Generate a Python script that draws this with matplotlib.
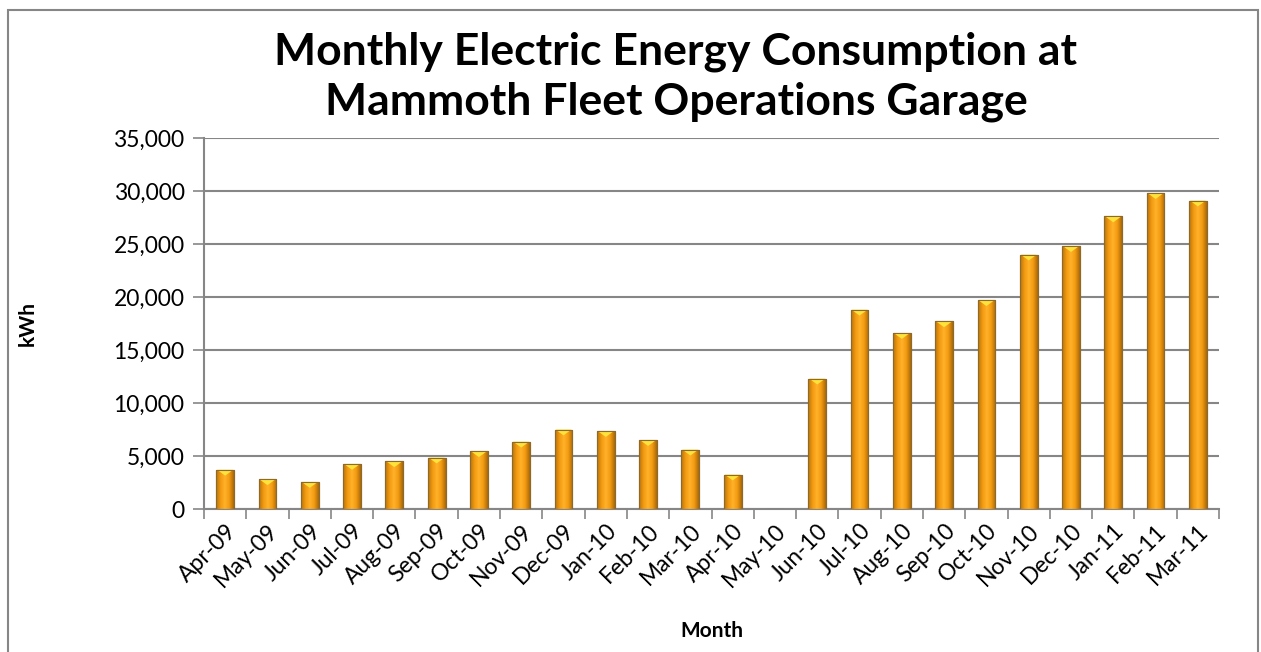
import numpy as np
import matplotlib.pyplot as plt
from matplotlib.patches import Rectangle, Polygon
from matplotlib.colors import LinearSegmentedColormap

months = ["Apr-09", "May-09", "Jun-09", "Jul-09", "Aug-09", "Sep-09", "Oct-09",
          "Nov-09", "Dec-09", "Jan-10", "Feb-10", "Mar-10", "Apr-10", "May-10",
          "Jun-10", "Jul-10", "Aug-10", "Sep-10", "Oct-10", "Nov-10", "Dec-10",
          "Jan-11", "Feb-11", "Mar-11"]
kwh = [3700, 2800, 2550, 4250, 4500, 4850, 5450, 6350, 7500, 7350, 6500, 5600,
       3250, 0, 12300, 18800, 16600, 17700, 19700, 24000, 24800, 27600, 29800, 29100]
yticks = [0, 5000, 10000, 15000, 20000, 25000, 30000, 35000]

plt.rcParams["font.family"] = ["Lato", "DejaVu Sans"]

fig = plt.figure(figsize=(12.61, 6.52), dpi=100)
ax = fig.add_axes([0.1618, 0.2193, 0.8049, 0.5690])

x = np.arange(len(months))
bars = ax.bar(x, kwh, width=0.42, color="#F5A01A", edgecolor="#8C6A2A", linewidth=0.8, zorder=3)

# shaded look: dark edges, bright centre, small yellow bevel on top
cmap = LinearSegmentedColormap.from_list("bar", ["#B8740C", "#F29A10", "#FFB22A", "#F29A10", "#A9690A"])
grad = np.linspace(0, 1, 64).reshape(1, -1)
for b in bars:
    h = b.get_height()
    if h <= 0:
        continue
    x0, w = b.get_x(), b.get_width()
    im = ax.imshow(grad, cmap=cmap, aspect="auto", extent=[x0, x0 + w, 0, h], zorder=3.5)
    im.set_clip_path(b)
    cap = 550
    tri = Polygon([[x0 + 0.05 * w, h], [x0 + 0.95 * w, h], [x0 + w / 2, h - cap]],
                  closed=True, facecolor="#FFE23A", edgecolor="none", zorder=4)
    ax.add_patch(tri)
    ax.add_patch(Rectangle((x0, 0), w, h, fill=False, edgecolor="#8C6A2A", linewidth=0.8, zorder=4.5))

ax.set_xlim(-0.5, len(months) - 0.5)
ax.set_ylim(0, 35000)
ax.set_yticks(yticks)
ax.set_yticklabels([f"{v:,}" for v in yticks], fontsize=16.5)
ax.set_xticks(x)
ax.set_xticklabels(months, rotation=45, ha="right", rotation_mode="anchor", fontsize=16.5)
ax.tick_params(axis="x", length=0, pad=8)
ax.set_xticks(np.arange(-0.5, len(months), 1), minor=True)
ax.tick_params(axis="x", which="minor", length=7, color="#868686", width=1.2)
ax.tick_params(axis="y", length=8, color="#868686", width=1.2, pad=6)

ax.grid(True, axis="y", color="#868686", linewidth=1.5, zorder=0)
ax.set_axisbelow(True)
for s in ["top", "right"]:
    ax.spines[s].set_visible(False)
for s in ["left", "bottom"]:
    ax.spines[s].set_color("#868686")
    ax.spines[s].set_linewidth(1.5)

ax.set_ylabel("kWh", fontsize=15, fontweight="bold")
ax.yaxis.set_label_coords(-0.164, 0.5)
ax.set_xlabel("Month", fontsize=15, fontweight="bold", labelpad=22)
fig.text(0.536, 0.882, "Monthly Electric Energy Consumption at\nMammoth Fleet Operations Garage",
         ha="center", va="center", fontsize=32, fontweight="bold", linespacing=1.3)

# outer chart frame
fig.add_artist(Rectangle((8 / 1261, -0.01), 1250 / 1261, 1 - 10 / 652 + 0.01, transform=fig.transFigure,
                         fill=False, edgecolor="#868686", linewidth=1.5))

plt.savefig("out.png", dpi=100)
